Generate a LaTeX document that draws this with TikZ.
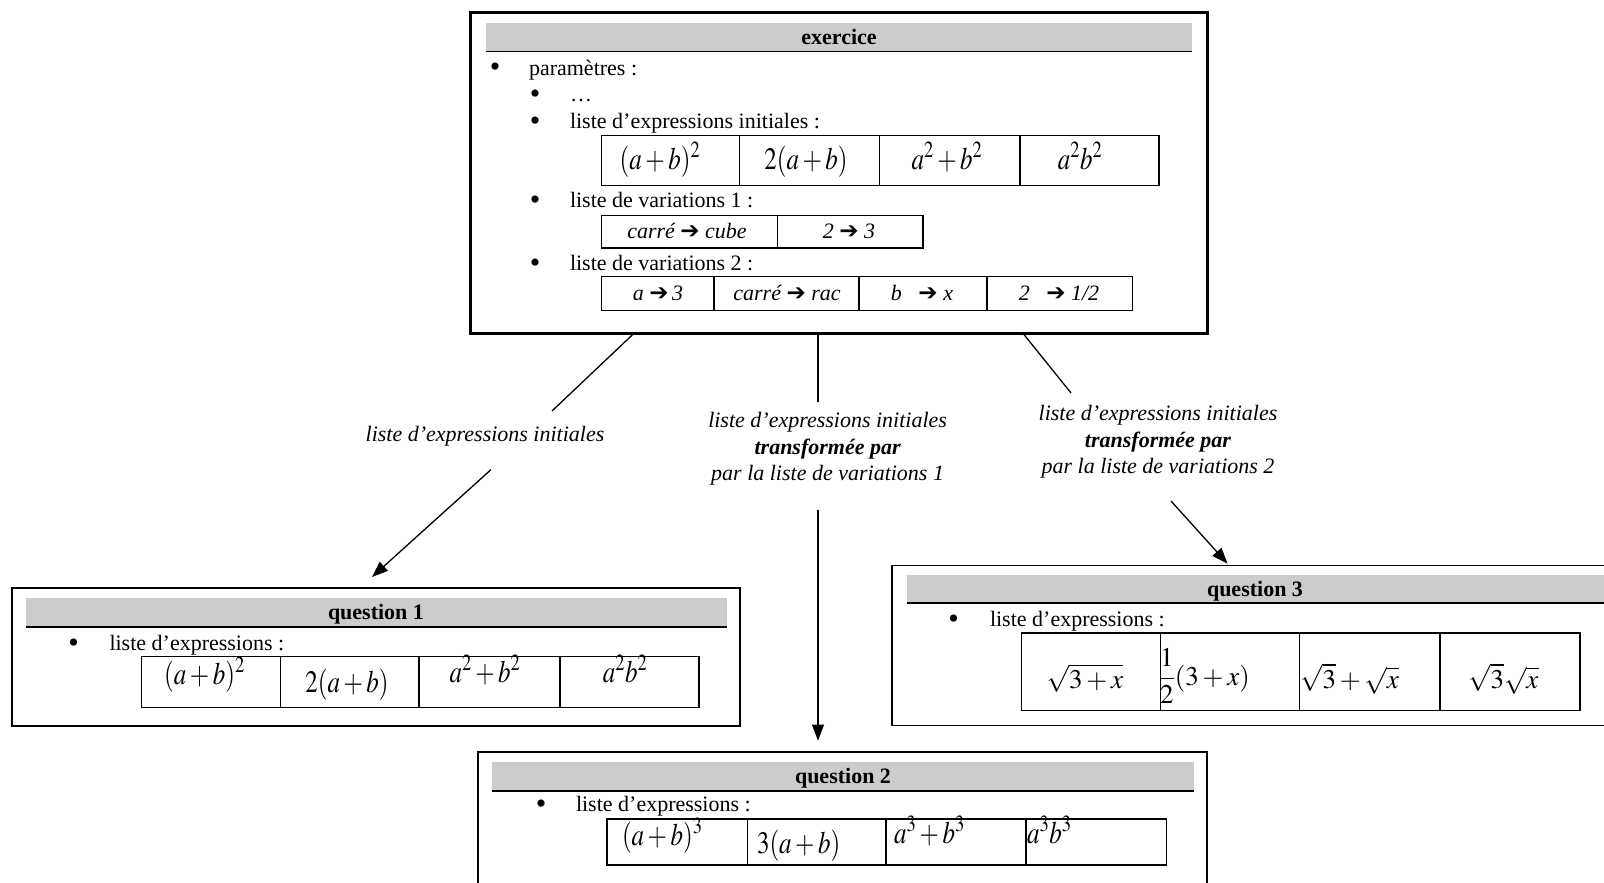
\documentclass[tikz,border=0pt]{standalone}
\usepackage{mathptmx}
\usepackage[no-math]{fontspec}
\setmainfont{Liberation Serif}
\newfontfamily\arrowfnt{DejaVu Sans}
\usepackage{graphicx}
\usetikzlibrary{arrows.meta}
\newcommand\mexpr[1]{\scalebox{1}[1.25]{\fontsize{25}{30}\selectfont$#1$}}
\newcommand\qexpr[1]{{\fontsize{27}{30}\selectfont$#1$}}
\newcommand\varr{{\arrowfnt\bfseries\fontsize{23}{26}\selectfont ➔}}
\newcommand\cellbox[5]{\node[cell, minimum width=#4pt, minimum height=#5pt] (#1) at (#2,#3) {};}
\begin{document}
\begin{tikzpicture}[x=1pt,y=-1pt,
  every node/.style={inner sep=0pt,outer sep=0pt,font=\fontsize{22}{26}\selectfont},
  exbox/.style={draw,line width=3pt},
  qbox/.style={draw,line width=1.8pt},
  headbar/.style={fill=black!20,draw=none},
  hline/.style={line width=1.8pt},
  headtxt/.style={anchor=base,font=\bfseries\fontsize{22}{26}\selectfont},
  bul/.style={anchor=base,font=\fontsize{30}{30}\selectfont},
  item/.style={anchor=base west},
  cell/.style={draw,line width=1.3pt,anchor=north west},
  val/.style={anchor=base},
  valw/.style={anchor=base west},
  vtxt/.style={anchor=base,font=\itshape\fontsize{22}{26}\selectfont},
  lbl/.style={align=center,font=\itshape\fontsize{22}{26.6}\selectfont},
  conn/.style={line width=1.3pt},
  arr/.style={conn,-{Triangle[length=16pt,width=12pt]}}
]
\useasboundingbox (0,0) rectangle (1604,883);
\clip (0,0) rectangle (1604,883);

% ---------------- exercice ----------------
\node[exbox,minimum width=736.5pt,minimum height=320.6pt] (ex) at (838.75,173) {};
\node[headbar,minimum width=706pt,minimum height=28.5pt] (exh) at (839,37.3) {};
\draw[hline] (exh.south west) -- (exh.south east);
\node[headtxt] (exht) at (839,45) {exercice};
\node[bul] (exb1) at (495,77) {•};
\node[item] (exi1) at (529,75) {paramètres :};
\node[bul] (exb2) at (535,103) {•};
\node[item] (exi2) at (570,101) {…};
\node[bul] (exb3) at (535,130) {•};
\node[item] (exi3) at (570,128) {liste d’expressions initiales :};
\node[bul] (exb4) at (535,209) {•};
\node[item] (exi4) at (570,207) {liste de variations 1 :};
\node[bul] (exb5) at (535,272) {•};
\node[item] (exi5) at (570,270) {liste de variations 2 :};

\cellbox{ta1}{601.5}{135.7}{138.1}{50}
\cellbox{ta2}{739.6}{135.7}{140.2}{50}
\cellbox{ta3}{879.8}{135.7}{140.2}{50}
\cellbox{ta4}{1020}{135.7}{139}{50}
\node[val] (va1) at (660,169) {\mexpr{(a+b)^2}};
\node[val] (va2) at (806,169) {\mexpr{2(a+b)}};
\node[val] (va3) at (947,169) {\mexpr{a^2+b^2}};
\node[val] (va4) at (1080,169) {\mexpr{a^2b^2}};

\cellbox{tb1}{601.5}{215.7}{176}{32.3}
\cellbox{tb2}{777.5}{215.7}{145.5}{32.3}
\node[vtxt] (vb1) at (687,238) {carré \varr\ cube};
\node[vtxt] (vb2) at (849,238) {2 \varr\ 3};

\cellbox{tc1}{601.5}{276.7}{112.5}{34}
\cellbox{tc2}{714}{276.7}{145}{34}
\cellbox{tc3}{859}{276.7}{128}{34}
\cellbox{tc4}{987}{276.7}{145.7}{34}
\node[vtxt] (vc1) at (658,300) {a \varr\,3};
\node[vtxt] (vc2) at (787,300) {carré \varr\ rac};
\node[vtxt] (vc3) at (922,300) {b \enspace\varr\ x};
\node[vtxt] (vc4) at (1059,300) {2 \enspace\varr\ 1/2};

% ---------------- question 1 ----------------
\node[qbox,minimum width=727.3pt,minimum height=137.7pt] (q1) at (376,657.15) {};
\node[headbar,minimum width=701.4pt,minimum height=28.7pt] (q1h) at (376.3,612.35) {};
\draw[hline] (q1h.south west) -- (q1h.south east);
\node[headtxt] (q1t) at (376,619.5) {question 1};
\node[bul] (q1b) at (73.7,652) {•};
\node[item] (q1i) at (109.5,650) {liste d’expressions :};
\cellbox{td1}{141.7}{656.7}{139}{51}
\cellbox{td2}{280.7}{656.7}{138.3}{51}
\cellbox{td3}{419}{656.7}{141}{51}
\cellbox{td4}{560}{656.7}{139}{51}
\node[val] (vd1) at (204.5,684) {\mexpr{(a+b)^2}};
\node[val] (vd2) at (347,692) {\mexpr{2(a+b)}};
\node[val] (vd3) at (485,682) {\mexpr{a^2+b^2}};
\node[val] (vd4) at (625,682) {\mexpr{a^2b^2}};

% ---------------- question 3 ----------------
\node[qbox,minimum width=728pt,minimum height=160pt] (q3) at (1256,645.5) {};
\node[headbar,minimum width=700pt,minimum height=28pt] (q3h) at (1257,589) {};
\draw[hline] (q3h.south west) -- (q3h.south east);
\node[headtxt] (q3t) at (1255,596) {question 3};
\node[bul] (q3b) at (953.5,628) {•};
\node[item] (q3i) at (990,626) {liste d’expressions :};
\cellbox{te1}{1021.7}{633}{139}{77.5}
\cellbox{te2}{1160.7}{633}{138.6}{77.5}
\cellbox{te3}{1299.3}{633}{140.7}{77.5}
\cellbox{te4}{1440}{633}{140}{77.5}
\node[val] (ve1) at (1085,688) {\qexpr{\sqrt{3+x}}};
\node[valw] (ve2) at (1159,685) {\qexpr{\displaystyle\frac{1}{2}(3+x)}};
\node[valw] (ve3) at (1300,688) {\qexpr{\sqrt{3}+\sqrt{x}}};
\node[valw] (ve4) at (1468,688) {\qexpr{\sqrt{3}\sqrt{x}}};

% ---------------- question 2 ----------------
\node[qbox,minimum width=728.7pt,minimum height=147.7pt] (q2) at (842.35,826.15) {};
\node[headbar,minimum width=702pt,minimum height=28.7pt] (q2h) at (843,776.35) {};
\draw[hline] (q2h.south west) -- (q2h.south east);
\node[headtxt] (q2t) at (843,783.5) {question 2};
\node[bul] (q2b) at (541,813) {•};
\node[item] (q2i) at (576,811) {liste d’expressions :};
\cellbox{tf1}{607}{819}{140.7}{46}
\cellbox{tf2}{747.7}{819}{138.3}{46}
\cellbox{tf3}{886}{819}{140}{46}
\cellbox{tf4}{1026}{819}{140.7}{46}
\node[valw] (vf1) at (622,845) {\mexpr{(a+b)^3}};
\node[valw] (vf2) at (757,853) {\mexpr{3(a+b)}};
\node[valw] (vf3) at (894,843) {\mexpr{a^3+b^3}};
\node[valw] (vf4) at (1027,843) {\mexpr{a^3b^3}};

% ---------------- labels ----------------
\node[lbl] (lab1) at (485,436) {liste d’expressions initiales};
\node[lbl] (lab2) at (827.6,449) {liste d’expressions initiales\\\textbf{transformée par}\\par la liste de variations 1};
\node[lbl] (lab3) at (1158,442) {liste d’expressions initiales\\\textbf{transformée par}\\par la liste de variations 2};

% ---------------- connectors ----------------
\coordinate (c1s) at (634,0);
\coordinate (c1e) at (552,411);
\coordinate (a1s) at (491,469.6);
\coordinate (a1e) at (372,577);
\coordinate (c2s) at (818,0);
\coordinate (c2e) at (818,402);
\coordinate (a2s) at (818,509.5);
\coordinate (a2e) at (818,740.6);
\coordinate (c3s) at (1023,0);
\coordinate (c3e) at (1071,393);
\coordinate (a3s) at (1171,501);
\coordinate (a3e) at (1227.6,563.7);
\draw[conn] (ex.south -| c1s) -- (c1e);
\draw[arr] (a1s) -- (a1e);
\draw[conn] (ex.south -| c2s) -- (c2e);
\draw[arr] (a2s) -- (a2e);
\draw[conn] (ex.south -| c3s) -- (c3e);
\draw[arr] (a3s) -- (a3e);
\end{tikzpicture}
\end{document}
